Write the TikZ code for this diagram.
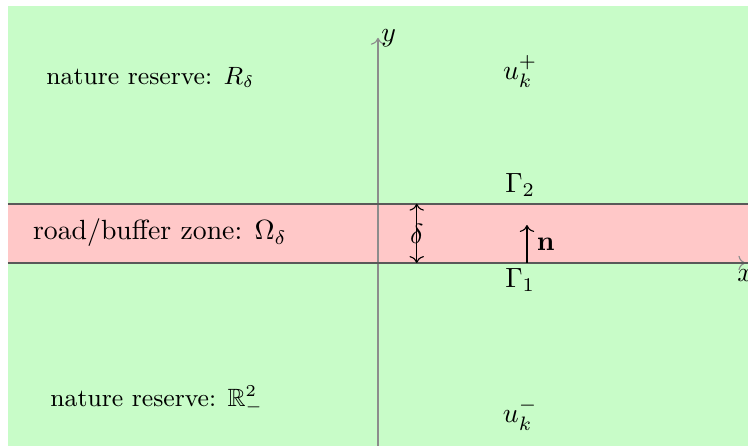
\documentclass[tikz,border=0pt]{standalone}
\usepackage{amsmath,amssymb,bm}
\usetikzlibrary{arrows.meta,positioning,calc}
\definecolor{reserve}{RGB}{200,252,200}
\definecolor{road}{RGB}{255,200,200}
\tikzstyle{zone} = [text centered, inner sep=2pt]
\tikzstyle{axis} = [draw, black!45, ->]
\tikzstyle{border} = [draw, black!65, line width=0.8pt]
\tikzstyle{line} = [draw, ->]

\begin{document}
\begin{tikzpicture}
	\useasboundingbox (-4.785,-2.316) rectangle (4.684,3.329);
	% Regions
	\fill [reserve] (-4.684,-2.316) rectangle (4.684,3.253);
	\fill [road] (-4.684,0) rectangle (4.684,0.75);
	% Axes
	\coordinate (xstart) at (-4.684,0);
	\coordinate (xend) at (4.65,0);
	\coordinate (ystart) at (0,-2.316);
	\coordinate (yend) at (0,2.85);
	\path [axis] (xstart) -- (xend);
	\path [axis] (ystart) -- (yend);
	\node [below=1pt of xend, inner sep=1pt] (xlabel) {$x$};
	\node [right=0pt of yend, inner sep=1pt] (ylabel) {$y$};
	% Boundaries Gamma_1 and Gamma_2
	\coordinate (g1-left) at (-4.684,0);
	\coordinate (g1-right) at (4.684,0);
	\coordinate (g2-left) at (-4.684,0.75);
	\coordinate (g2-right) at (4.684,0.75);
	\path [border] (g1-left) -- (g1-right);
	\path [border] (g2-left) -- (g2-right);
	% Labels of the zones
	\node [zone, font=\small] (upper) at (-2.88,2.35) {nature reserve: $R_\delta$};
	\node [zone] (middle) at (-2.76,0.38) {road/buffer zone: $\Omega_\delta$};
	\node [zone, font=\small] (lower) at (-2.8,-1.73) {nature reserve: $\mathbb{R}^2_-$};
	\node [zone] (uplus) at (1.8,2.42) {$u_k^+$};
	\node [zone] (uminus) at (1.8,-1.92) {$u_k^-$};
	\node [zone] (gamma2) at (1.8,0.99) {$\Gamma_2$};
	\node [zone] (gamma1) at (1.8,-0.22) {$\Gamma_1$};
	% Width delta and normal n
	\coordinate (d-bot) at (0.49,0);
	\coordinate (d-top) at (0.49,0.75);
	\path [line, <->] (d-bot) -- node (delta) {$\delta$} (d-top);
	\coordinate (n-foot) at (1.886,0);
	\coordinate (n-head) at (1.886,0.48);
	\path [line] (n-foot) -- node [right=0pt] (normal) {$\mathbf{n}$} (n-head);
\end{tikzpicture}
\end{document}
